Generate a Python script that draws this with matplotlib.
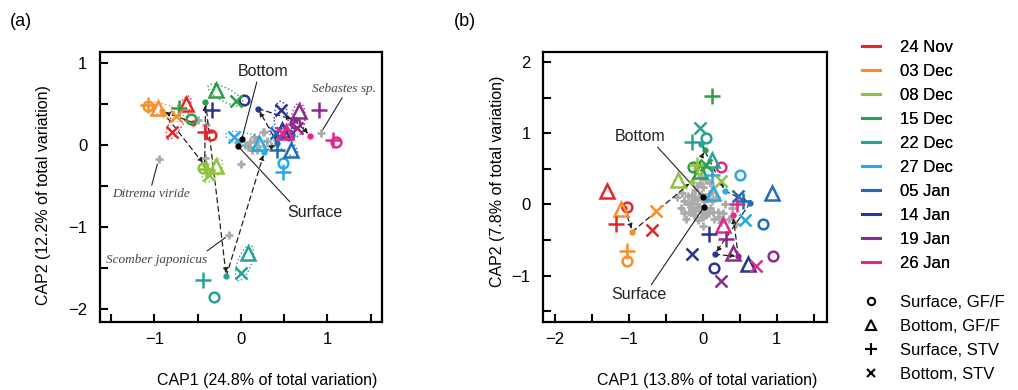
import numpy as np
import matplotlib.pyplot as plt
from matplotlib.lines import Line2D
from matplotlib.patches import Ellipse
from matplotlib.ticker import MultipleLocator

plt.rcParams['font.family'] = ['Liberation Sans', 'DejaVu Sans']

dates = ['24 Nov', '03 Dec', '08 Dec', '15 Dec', '22 Dec',
         '27 Dec', '05 Jan', '14 Jan', '19 Jan', '26 Jan']
colors = ['#E8252B', '#F58F2A', '#8CC43F', '#2E9E48', '#26A396',
          '#28A9E1', '#1F6DB5', '#2B3590', '#8E2A8E', '#E0288A']

# ---- panel (a): CAP scores, one (x, y) per date ----
a_surf_gff = [(-0.35, 0.12), (-1.08, 0.47), (-0.44, -0.28), (-0.58, 0.31), (-0.31, -1.85),
              (0.49, -0.22), (0.55, 0.12), (0.04, 0.55), (0.63, 0.26), (1.10, 0.04)]
a_bott_gff = [(-0.64, 0.50), (-0.96, 0.45), (-0.29, -0.26), (-0.29, 0.67), (0.08, -1.32),
              (0.21, 0.02), (0.58, -0.06), (0.47, 0.18), (0.67, 0.41), (0.52, 0.16)]
a_surf_stv = [(-0.42, 0.15), (-1.08, 0.49), (-0.40, -0.30), (-0.72, 0.45), (-0.44, -1.65),
              (0.49, -0.33), (0.42, -0.06), (-0.33, 0.43), (0.90, 0.43), (1.06, 0.06)]
a_bott_stv = [(-0.80, 0.16), (-0.75, 0.35), (-0.37, -0.37), (-0.06, 0.54), (0.00, -1.56),
              (-0.08, 0.10), (0.40, 0.14), (0.46, 0.43), (0.65, 0.20), (0.48, 0.14)]
a_centroid = [(-0.55, 0.27), (-0.91, 0.41), (-0.42, -0.25), (-0.41, 0.52), (-0.17, -1.60),
              (0.27, -0.09), (0.42, 0.02), (0.20, 0.44), (0.62, 0.30), (0.80, 0.11)]
a_species = [(-0.95, -0.17), (0.92, 0.14), (-0.14, -1.10), (-0.50, 0.30), (-0.40, 0.24),
             (-0.41, -0.16), (0.00, -0.24), (0.25, 0.16), (0.13, -0.06), (0.05, 0.00),
             (0.10, 0.03), (0.17, 0.05), (0.20, -0.02), (0.08, -0.03), (0.30, 0.05),
             (0.15, 0.10), (-0.04, 0.04), (0.27, 0.15), (0.19, -0.06), (0.35, -0.02)]
a_surface_pt = (-0.04, -0.01)
a_bottom_pt = (0.01, 0.07)

# ---- panel (b) ----
b_surf_gff = [(-1.03, -0.03), (-1.02, -0.80), (-0.05, 0.50), (-0.13, 0.52), (0.04, 0.93),
              (0.50, 0.41), (0.82, -0.28), (0.15, -0.89), (0.95, -0.72), (0.25, 0.53)]
b_bott_gff = [(-1.29, 0.19), (-1.10, -0.07), (-0.33, 0.35), (-0.04, 0.47), (0.12, 0.63),
              (0.14, 0.16), (0.94, 0.16), (0.61, -0.83), (0.41, -0.68), (0.27, -0.29)]
b_surf_stv = [(-1.17, -0.27), (-1.03, -0.66), (-0.08, 0.56), (0.12, 1.53), (-0.15, 0.88),
              (0.12, 0.42), (0.55, 0.05), (0.09, -0.41), (0.31, -0.49), (0.46, 0.00)]
b_bott_stv = [(-0.68, -0.36), (-0.63, -0.09), (0.25, 0.33), (0.05, 0.55), (-0.04, 1.08),
              (0.57, -0.22), (0.48, 0.12), (-0.14, -0.70), (0.25, -1.08), (0.72, -0.86)]
b_centroid = [(-1.06, -0.05), (-0.95, -0.38), (-0.15, 0.32), (0.03, 0.77), (-0.02, 0.85),
              (0.30, 0.19), (0.64, 0.02), (0.16, -0.70), (0.48, -0.73), (0.41, -0.15)]
b_species = [(-0.25, 0.05), (-0.20, 0.12), (-0.15, -0.05), (-0.10, 0.20), (-0.08, 0.00),
             (-0.05, 0.10), (-0.03, -0.10), (0.00, 0.25), (0.02, 0.05), (0.05, -0.15),
             (0.08, 0.15), (0.10, -0.05), (0.12, 0.05), (-0.12, -0.15), (-0.18, -0.10),
             (0.15, -0.20), (0.20, -0.10), (0.25, -0.25), (0.35, -0.20), (0.05, 0.35),
             (-0.30, -0.05), (0.00, -0.30), (-0.07, -0.22), (0.18, 0.10), (-0.22, -0.20),
             (0.30, 0.00), (0.40, -0.05), (0.10, 0.30), (-0.02, 0.40), (-0.35, 0.10),
             (-0.12, 0.08), (-0.16, 0.02), (-0.06, -0.04), (-0.10, -0.08), (0.04, -0.06),
             (-0.02, 0.15), (0.06, 0.08), (-0.20, 0.00), (-0.14, 0.14), (0.00, -0.18),
             (0.08, -0.12), (-0.26, -0.12), (-0.04, 0.30), (0.14, -0.10), (-0.08, 0.26),
             (0.22, -0.18), (0.45, -0.28), (0.28, -0.12), (-0.28, 0.16), (0.12, 0.18)]
b_surface_pt = (0.02, -0.03)
b_bottom_pt = (0.00, 0.11)

shapes = [('o', 7, 'Surface, GF/F'), ('^', 10.5, 'Bottom, GF/F'),
          ('+', 11, 'Surface, STV'), ('x', 8.5, 'Bottom, STV')]


def draw_panel(ax, groups, cents, species, surf, bott, ellipses):
    sp = np.array(species)
    ax.plot(sp[:, 0], sp[:, 1], '+', color='#ababab', ms=6, mew=2.0, zorder=2)

    if ellipses:
        for t, x, c in zip(groups[1], groups[3], colors):
            cx, cy = (t[0] + x[0]) / 2, (t[1] + x[1]) / 2
            d = np.hypot(t[0] - x[0], t[1] - x[1])
            ang = np.degrees(np.arctan2(t[1] - x[1], t[0] - x[0]))
            ax.add_patch(Ellipse((cx, cy), d + 0.2, 0.16, angle=ang, fill=False,
                                 ec=c, ls=':', lw=1.0, zorder=2))

    cen = np.array(cents)
    for i in range(len(cen) - 1):
        ax.annotate('', xy=cen[i + 1], xytext=cen[i],
                    arrowprops=dict(arrowstyle='-|>', ls=(0, (4, 3)), lw=0.9,
                                    color='#222222', mutation_scale=7,
                                    shrinkA=0, shrinkB=2), zorder=3)
    for (x, y), c in zip(cents, colors):
        ax.plot(x, y, 'o', color=c, ms=3.5, zorder=4)

    for pts, (m, ms, _) in zip(groups, shapes):
        for (x, y), c in zip(pts, colors):
            ax.plot(x, y, marker=m, ms=ms, mfc='none', mec=c, mew=1.8, ls='none', zorder=5)

    ax.plot(*surf, 'o', color='k', ms=3.5, zorder=6)
    ax.plot(*bott, 'o', color='k', ms=3.5, zorder=6)


def style_axes(ax, xlim, ylim):
    ax.set_xlim(*xlim)
    ax.set_ylim(*ylim)
    for a in (ax.xaxis, ax.yaxis):
        a.set_major_locator(MultipleLocator(1))
        a.set_minor_locator(MultipleLocator(0.5))
    ax.tick_params(which='both', direction='in', length=6, width=1.5, labelsize=12)
    ax.tick_params(axis='y', pad=9)
    ax.tick_params(axis='x', pad=7)
    for s in ax.spines.values():
        s.set_linewidth(1.6)


fig = plt.figure(figsize=(10.18, 3.9), dpi=100)
ax1 = fig.add_axes([0.0982, 0.1744, 0.277, 0.692])
ax2 = fig.add_axes([0.5334, 0.1744, 0.279, 0.692])

draw_panel(ax1, [a_surf_gff, a_bott_gff, a_surf_stv, a_bott_stv], a_centroid,
           a_species, a_surface_pt, a_bottom_pt, True)
draw_panel(ax2, [b_surf_gff, b_bott_gff, b_surf_stv, b_bott_stv], b_centroid,
           b_species, b_surface_pt, b_bottom_pt, False)

style_axes(ax1, (-1.63, 1.63), (-2.16, 1.13))
style_axes(ax2, (-2.16, 1.68), (-1.65, 2.14))

ax1.set_xlabel('CAP1 (24.8% of total variation)', fontsize=11.5)
ax1.set_ylabel('CAP2 (12.2% of total variation)', fontsize=11.5)
ax2.set_xlabel('CAP1 (13.8% of total variation)', fontsize=11.5)
ax2.set_ylabel('CAP2 (7.8% of total variation)', fontsize=11.5)
ax1.xaxis.set_label_coords(0.592, -0.19)
ax2.xaxis.set_label_coords(0.577, -0.19)
ax1.yaxis.set_label_coords(-0.175, 0.47)
ax2.yaxis.set_label_coords(-0.135, 0.52)

# annotations, panel (a)
lab = dict(fontsize=11.5, color='#222222')
line = dict(arrowstyle='-', color='#222222', lw=0.8, shrinkA=0, shrinkB=0)
ax1.annotate('Bottom', xy=a_bottom_pt, xytext=(0.25, 0.89), ha='center', va='center',
             arrowprops=dict(line, relpos=(0.4, 0)), **lab)
ax1.annotate('Surface', xy=a_surface_pt, xytext=(0.85, -0.82), ha='center', va='center',
             arrowprops=dict(line, relpos=(0.1, 1)), **lab)
sp_lab = dict(fontsize=9.5, color='#444444', family='Liberation Serif', style='italic',
              ha='center', va='center')
ax1.annotate('Sebastes sp.', xy=a_species[1], xytext=(1.19, 0.68),
             arrowprops=dict(line, relpos=(0.5, 0), shrinkB=3), **sp_lab)
ax1.annotate('Ditrema viride', xy=a_species[0], xytext=(-1.04, -0.60),
             arrowprops=dict(line, relpos=(0.5, 1), shrinkB=4), **sp_lab)
ax1.annotate('Scomber japonicus', xy=a_species[2], xytext=(-0.98, -1.40),
             arrowprops=dict(line, relpos=(0.95, 0.9), shrinkB=3), **sp_lab)

# annotations, panel (b)
ax2.annotate('Bottom', xy=b_bottom_pt, xytext=(-0.85, 0.95), ha='center', va='center',
             arrowprops=dict(line, relpos=(0.8, 0)), **lab)
ax2.annotate('Surface', xy=b_surface_pt, xytext=(-0.87, -1.27), ha='center', va='center',
             arrowprops=dict(line, relpos=(0.7, 1)), **lab)

fig.text(0.010, 0.944, '(a)', fontsize=13, va='center')
fig.text(0.446, 0.944, '(b)', fontsize=13, va='center')

# legends
date_handles = [Line2D([], [], color=c, lw=2.2) for c in colors]
leg1 = fig.legend(date_handles, dates, loc='upper left', bbox_to_anchor=(0.8468, 0.897),
                  frameon=False, fontsize=12, handlelength=1.1, handletextpad=1.15,
                  labelspacing=0.54, borderpad=0, borderaxespad=0)
shape_handles = [Line2D([], [], ls='none', marker=m, ms=ms * 0.75, mfc='none', mec='k', mew=1.5)
                 for m, ms, _ in shapes]
fig.legend(shape_handles, [s[2] for s in shapes], loc='upper left',
           bbox_to_anchor=(0.8468, 0.243), frameon=False, fontsize=12,
           handlelength=1.1, handletextpad=1.15, labelspacing=0.54,
           borderpad=0, borderaxespad=0)
fig.add_artist(leg1)

fig.savefig('out.png', dpi=100)
